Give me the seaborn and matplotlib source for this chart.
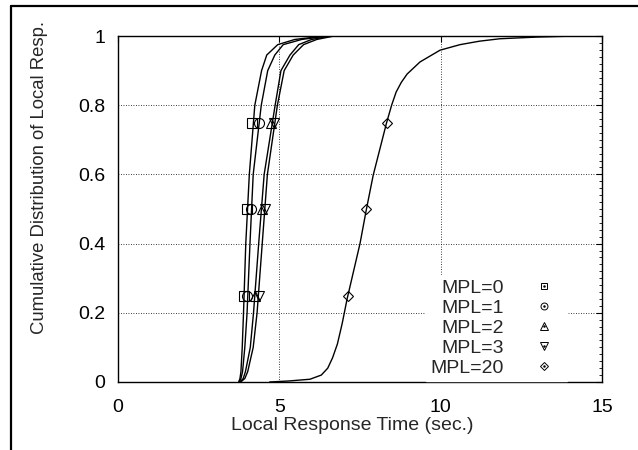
import numpy as np
import pandas as pd
import seaborn as sns
import matplotlib.pyplot as plt
from matplotlib.lines import Line2D
from matplotlib.ticker import MultipleLocator, FixedLocator
from matplotlib.legend_handler import HandlerTuple

sns.set_style('white')
plt.rcParams['font.family'] = ['Liberation Sans', 'DejaVu Sans']

# CDF levels (MPL=0..3)
cdf_fast = [0.0, 0.01, 0.03, 0.1, 0.2, 0.4, 0.6, 0.8, 0.9, 0.945, 0.975, 0.99, 1.0, 1.0]
t_mpl0 = [3.74, 3.78, 3.81, 3.85, 3.89, 3.96, 4.07, 4.24, 4.45, 4.61, 4.95, 5.48, 6.40, 15.0]
t_mpl1 = [3.76, 3.81, 3.86, 3.93, 4.00, 4.09, 4.19, 4.44, 4.64, 4.86, 5.12, 5.69, 6.50, 15.0]
t_mpl2 = [3.78, 3.88, 3.95, 4.10, 4.20, 4.36, 4.53, 4.87, 5.05, 5.33, 5.60, 6.00, 6.60, 15.0]
t_mpl3 = [3.80, 3.93, 4.02, 4.19, 4.31, 4.47, 4.63, 4.94, 5.15, 5.43, 5.75, 6.16, 6.70, 15.0]

# MPL=20 curve
t_mpl20 = [4.7, 5.3, 5.95, 6.3, 6.5, 6.65, 6.8, 6.95, 7.1, 7.25, 7.50, 7.70, 7.91,
           8.32, 8.48, 8.62, 8.78, 8.96, 9.36, 9.98, 10.6, 11.2, 11.83, 13.0, 14.2, 15.0]
cdf_mpl20 = [0.0, 0.003, 0.008, 0.02, 0.04, 0.07, 0.11, 0.17, 0.24, 0.30, 0.40,
             0.50, 0.598, 0.748, 0.80, 0.838, 0.866, 0.89, 0.925, 0.959, 0.975, 0.985,
             0.992, 0.997, 1.0, 1.0]

# quartile markers
quart = [0.25, 0.5, 0.75]
q_mpl0 = [3.90, 3.99, 4.16]
q_mpl1 = [4.00, 4.12, 4.38]
q_mpl2 = [4.24, 4.45, 4.73]
q_mpl3 = [4.38, 4.55, 4.83]
q_mpl20 = [7.14, 7.70, 8.34]

labels = ['MPL=0', 'MPL=1', 'MPL=2', 'MPL=3', 'MPL=20']
markers = ['s', 'o', '^', 'v', 'D']
msize = [7.2, 7.2, 7.4, 7.4, 4.9]

rows = []
for lab, t in zip(labels[:4], [t_mpl0, t_mpl1, t_mpl2, t_mpl3]):
    for x, y in zip(t, cdf_fast):
        rows.append((lab, x, y))
for x, y in zip(t_mpl20, cdf_mpl20):
    rows.append(('MPL=20', x, y))
curves = pd.DataFrame(rows, columns=['mpl', 'time', 'cdf'])

fig = plt.figure(figsize=(6.38, 4.5), dpi=100)
ax = fig.add_axes([118 / 638, 1 - 382 / 450, 484 / 638, 346 / 450])

sns.lineplot(data=curves, x='time', y='cdf', hue='mpl', palette=['black'] * 5,
             estimator=None, sort=False, legend=False, linewidth=1.0, ax=ax)

qs = [q_mpl0, q_mpl1, q_mpl2, q_mpl3, q_mpl20]
for q, m, ms in zip(qs, markers, msize):
    ax.plot(q, quart, ls='none', marker=m, ms=ms, mfc='none', mec='black', mew=0.8)

ax.set_xlim(0, 15)
ax.set_ylim(0, 1)
ax.xaxis.set_major_locator(FixedLocator([0, 5, 10, 15]))
ax.yaxis.set_major_locator(FixedLocator([0, 0.2, 0.4, 0.6, 0.8, 1.0]))
ax.yaxis.set_minor_locator(MultipleLocator(0.02))
ax.set_xticklabels(['0', '5', '10', '15'])
ax.set_yticklabels(['0', '0.2', '0.4', '0.6', '0.8', '1'])
ax.tick_params(which='both', direction='in', top=True, right=True, colors='black')
ax.tick_params(which='major', length=4, width=0.8, labelsize=14)
ax.tick_params(which='minor', length=2.2, width=0.6)
ax.tick_params(axis='x', pad=12.5)
ax.tick_params(axis='y', pad=9)
ax.grid(True, which='major', linestyle=(0, (1, 2)), color='black', linewidth=0.6)
for s in ax.spines.values():
    s.set_color('black')
    s.set_linewidth(1.0)
ax.set_xlabel('')
ax.set_ylabel('')

fig.text(352 / 638, 1 - 425 / 450, 'Local Response Time (sec.)', fontsize=14,
         ha='center', va='center')
fig.text(40 / 638, 1 - 178 / 450, 'Cumulative Distribution of Local Resp.', fontsize=13.3,
         rotation=90, ha='center', va='center')

handles = []
for m, ms in zip(markers, [5, 5, 5.2, 5.2, 3.6]):
    h = Line2D([], [], ls='none', marker=m, ms=ms, mfc='none', mec='black', mew=0.7)
    d = Line2D([], [], ls='none', marker='o', ms=0.8, mfc='black', mec='black')
    handles.append((h, d))
leg = ax.legend(handles, labels, handler_map={tuple: HandlerTuple(ndivide=1, pad=0)},
                loc='lower right', bbox_to_anchor=(0.9275, 0.004), markerfirst=False,
                fontsize=14, frameon=True, fancybox=False, framealpha=1,
                edgecolor='white', handlelength=2.0, handletextpad=1.06,
                labelspacing=0.12, borderpad=0.2, borderaxespad=0)

# outer frame
fig.add_artist(Line2D([11 / 638, 11 / 638], [0, 1 - 6 / 450], color='black', lw=1.6))
fig.add_artist(Line2D([11 / 638, 1], [1 - 6 / 450, 1 - 6 / 450], color='black', lw=1.6))

fig.savefig('out.png', dpi=100)
